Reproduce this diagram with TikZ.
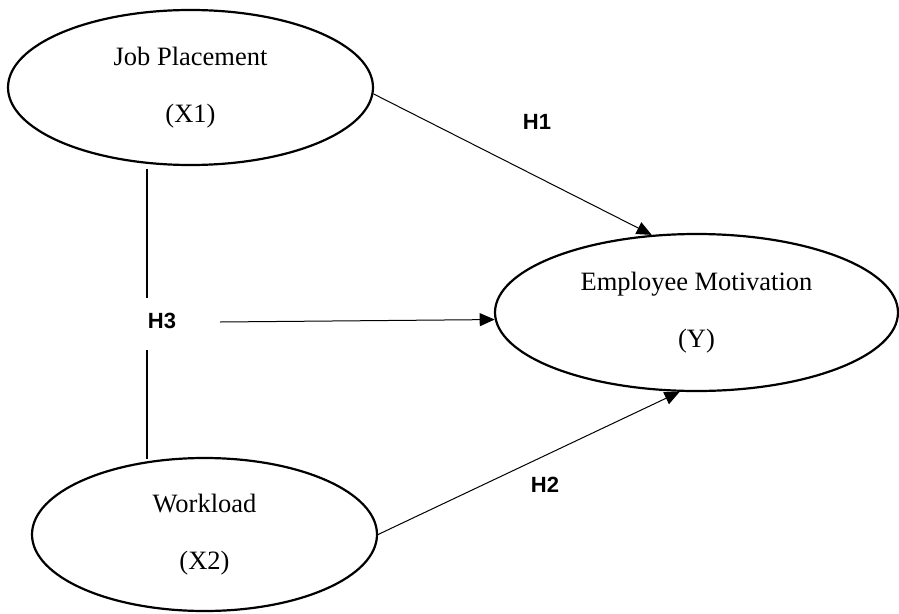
\documentclass[tikz,border=0pt]{standalone}
\usepackage{fontspec}
\setmainfont{Liberation Serif}
\newfontfamily\labelfont{Liberation Sans}
\usetikzlibrary{shapes.geometric,arrows.meta}
\tikzset{
  construct/.style={ellipse, draw, line width=2.2pt, inner sep=0pt, align=center,
    font=\fontsize{26.5}{31}\selectfont},
  hyp/.style={font=\labelfont\bfseries\fontsize{22}{26}\selectfont, inner sep=0pt},
  arr/.style={line width=1pt, -{Triangle[length=15pt,width=13pt]}},
  link/.style={line width=1.4pt}
}
\begin{document}
\begin{tikzpicture}[x=1pt,y=-1pt]
\useasboundingbox (0,0) rectangle (899,613);
\node[construct, minimum width=365pt, minimum height=155pt] (jp) at (190.5,87.5)
  {Job Placement\\[26pt](X1)};
\node[construct, minimum width=403pt, minimum height=157pt] (em) at (696.5,312.5)
  {Employee Motivation\\[26pt](Y)};
\node[construct, minimum width=345pt, minimum height=153pt] (wl) at (204.5,534.5)
  {Workload\\[26pt](X2)};
\node[hyp] (h1) at (537,122) {H1};
\node[hyp] (h2) at (545,485) {H2};
\node[hyp] (h3) at (162,321) {H3};
\coordinate (v1) at (147,169);
\coordinate (v2) at (147,298);
\coordinate (v3) at (147,350);
\coordinate (v4) at (147,459);
\coordinate (h3s) at (220,322);
\draw[link] (v1) -- (v2);
\draw[link] (v3) -- (v4);
\draw[arr] (jp.-2) -- (em.120);
\draw[arr] (h3s) -- (em.182);
\draw[arr] (wl.east) -- (em.258);
\end{tikzpicture}
\end{document}
